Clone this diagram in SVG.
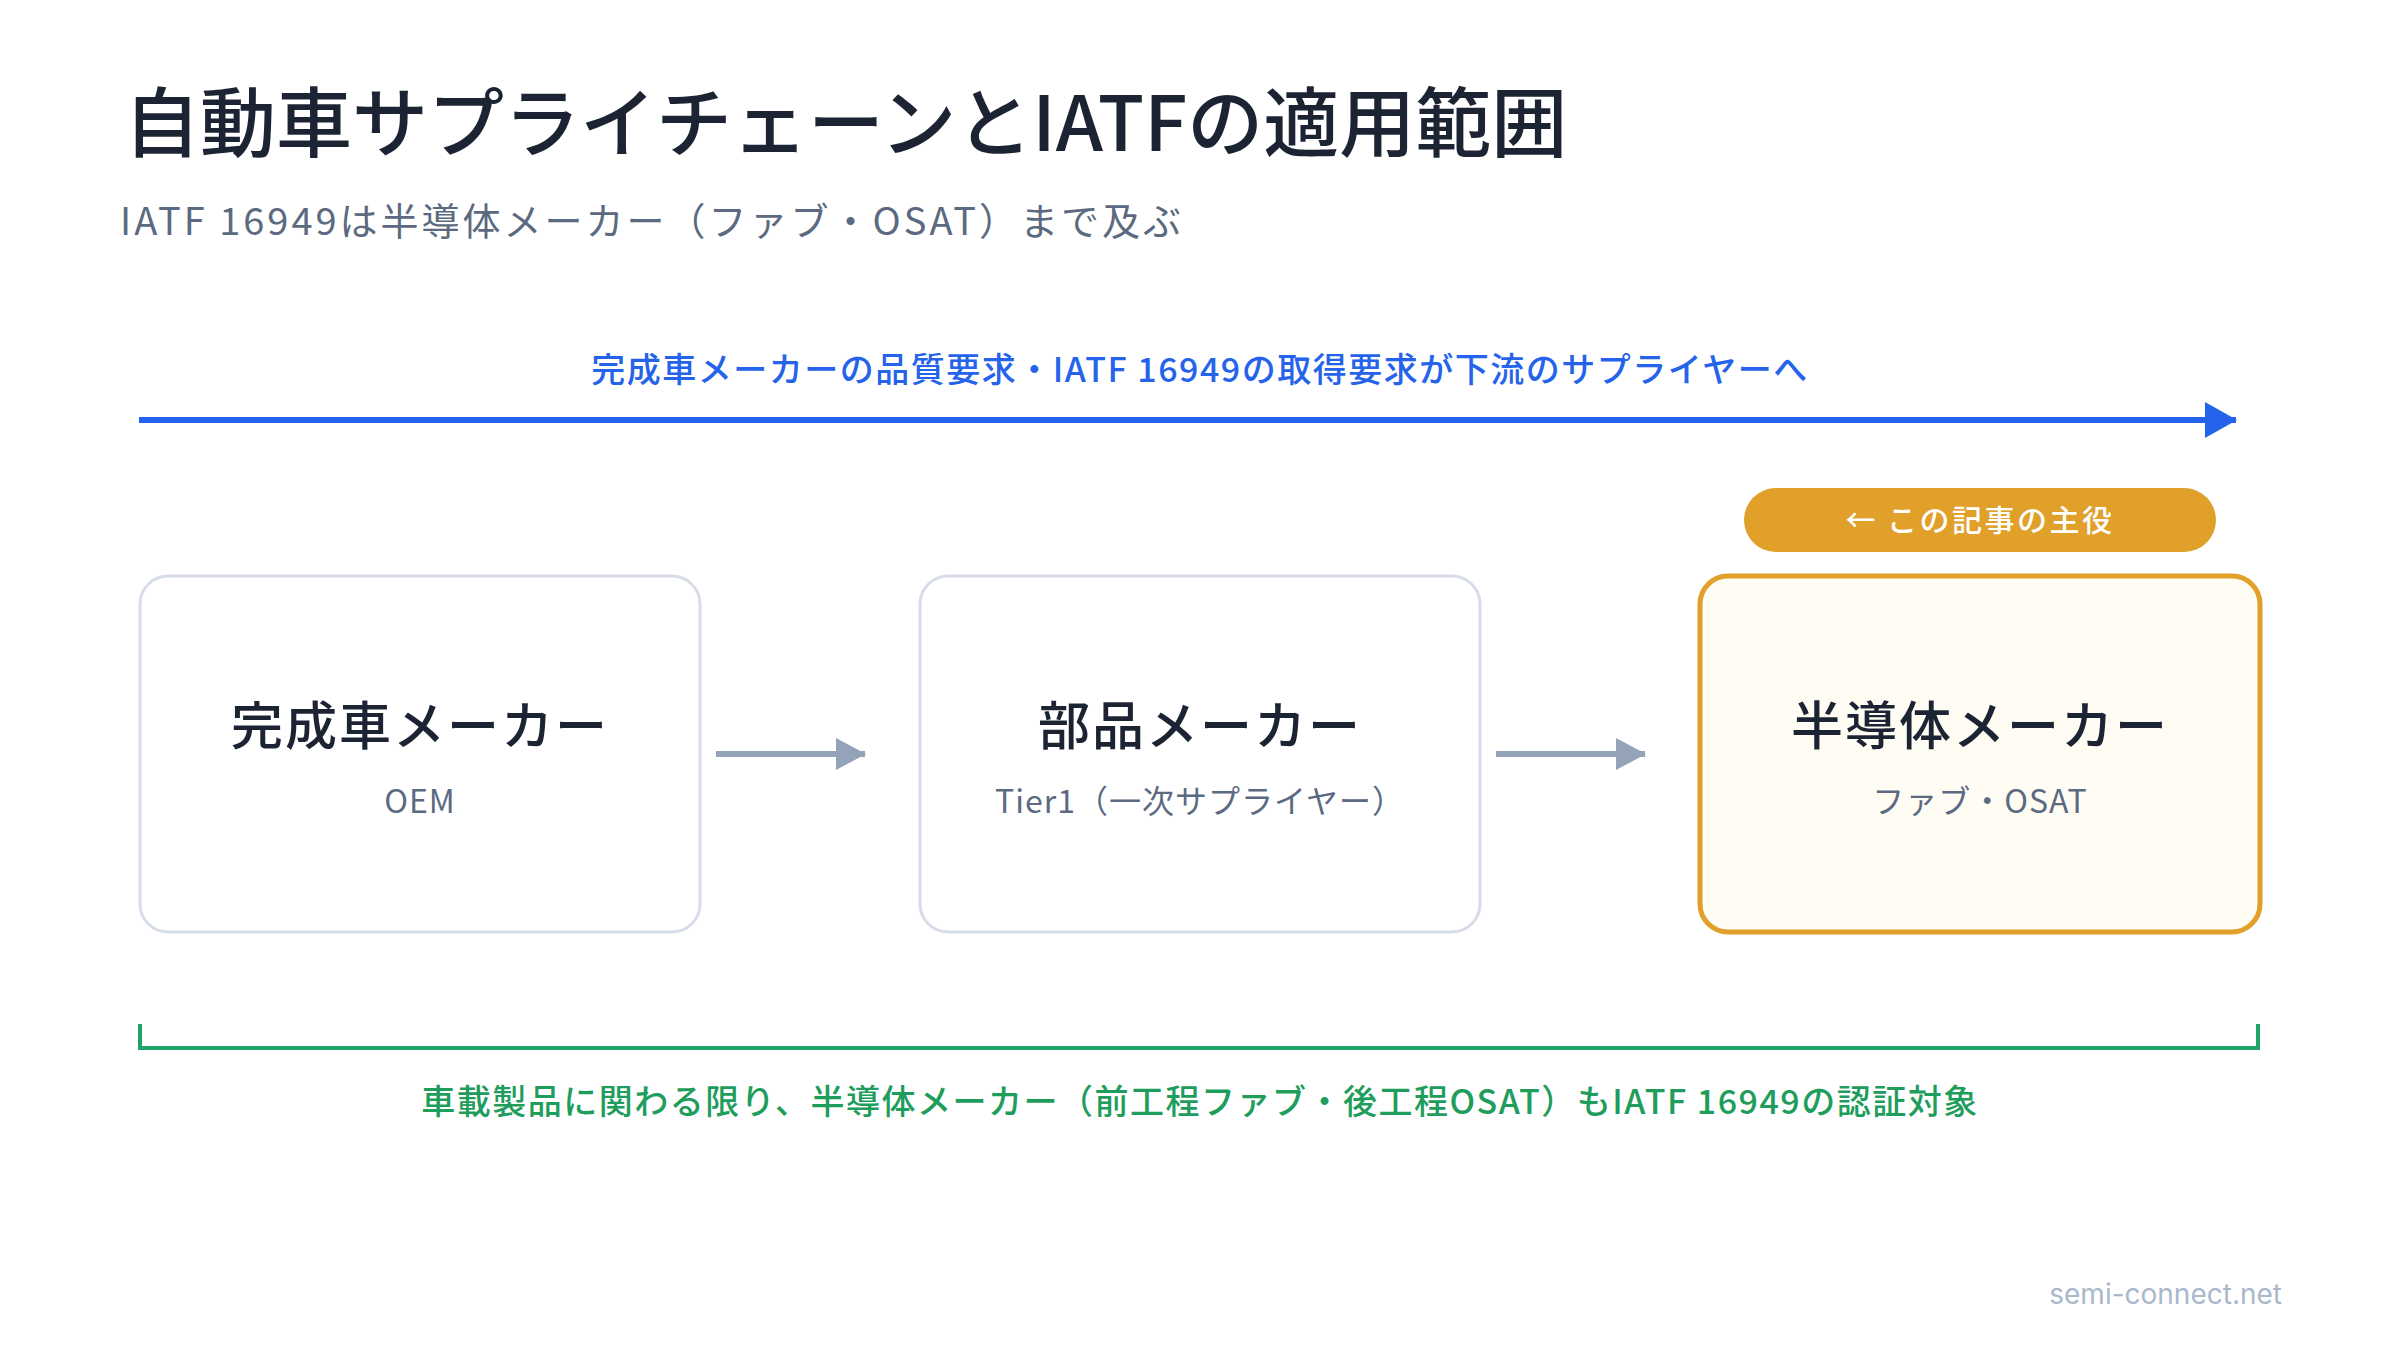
<svg xmlns="http://www.w3.org/2000/svg" width="2400" height="1350" viewBox="0 0 2400 1350">
<style>
text{font-family:"Noto Sans CJK JP","Noto Sans",sans-serif}
.title{font-size:76px;font-weight:500;fill:#1c2333}
.sub{font-size:38px;font-weight:400;fill:#5b6a80;letter-spacing:3px}
.flow{font-size:34px;font-weight:500;fill:#2563eb;letter-spacing:1.5px}
.box{fill:#ffffff;stroke:#d6dde8;stroke-width:3}
.hl{fill:#fffcf4;stroke:#e0a02a;stroke-width:5}
.bt{font-size:52px;font-weight:500;fill:#1c2333;letter-spacing:2px}
.bs{font-size:32px;font-weight:400;fill:#5b6a80;letter-spacing:1px}
.conn{stroke:#94a3b8;stroke-width:6;fill:none}
.scope{font-size:34px;font-weight:500;fill:#1f9d5c;letter-spacing:1.5px}
.foot{font-size:28px;fill:#a9b8cb;font-family:Inter,"Noto Sans",sans-serif}
</style>
<defs>
<marker id="ab" markerUnits="userSpaceOnUse" markerWidth="32" markerHeight="36" refX="31" refY="18" orient="auto"><path d="M0,0 L32,18 L0,36 Z" fill="#2563eb"/></marker>
<marker id="ag" markerUnits="userSpaceOnUse" markerWidth="30" markerHeight="32" refX="29" refY="16" orient="auto"><path d="M0,0 L30,16 L0,32 Z" fill="#94a3b8"/></marker>
</defs>
<rect width="2400" height="1350" fill="#ffffff"/>
<text class="title" x="124" y="151">自動車サプライチェーンとIATFの適用範囲</text>
<text class="sub" x="120" y="235">IATF 16949は半導体メーカー（ファブ・OSAT）まで及ぶ</text>
<g id="flow-label">
<text class="flow" x="1200" y="382" text-anchor="middle">完成車メーカーの品質要求・IATF 16949の取得要求が下流のサプライヤーへ</text>
</g>
<g id="connectors">
<line x1="139" y1="420" x2="2236" y2="420" stroke="#2563eb" stroke-width="6" marker-end="url(#ab)"/>
<line class="conn" x1="716" y1="754" x2="865" y2="754" marker-end="url(#ag)"/>
<line class="conn" x1="1496" y1="754" x2="1645" y2="754" marker-end="url(#ag)"/>
</g>
<g id="badge">
<rect x="1744" y="488" width="472" height="64" rx="32" fill="#e0a02a"/>
<text x="1980" y="531" text-anchor="middle" font-size="30" font-weight="500" fill="#ffffff" letter-spacing="2.5">← この記事の主役</text>
</g>
<g id="node-oem">
<rect class="box" x="140" y="576" width="560" height="356" rx="28"/>
<text class="bt" x="420" y="745" text-anchor="middle">完成車メーカー</text>
<text class="bs" x="420" y="813" text-anchor="middle">OEM</text>
</g>
<g id="node-tier1">
<rect class="box" x="920" y="576" width="560" height="356" rx="28"/>
<text class="bt" x="1200" y="745" text-anchor="middle">部品メーカー</text>
<text class="bs" x="1200" y="813" text-anchor="middle">Tier1（一次サプライヤー）</text>
</g>
<g id="node-semi">
<rect class="hl" x="1700" y="576" width="560" height="356" rx="28"/>
<text class="bt" x="1980" y="745" text-anchor="middle">半導体メーカー</text>
<text class="bs" x="1980" y="813" text-anchor="middle">ファブ・OSAT</text>
</g>
<g id="scope">
<path d="M140,1024 V1048 H2258 V1024" fill="none" stroke="#22a366" stroke-width="4"/>
<text class="scope" x="1200" y="1114" text-anchor="middle">車載製品に関わる限り、半導体メーカー（前工程ファブ・後工程OSAT）もIATF 16949の認証対象</text>
</g>
<text class="foot" x="2282" y="1304" text-anchor="end">semi-connect.net</text>
</svg>
